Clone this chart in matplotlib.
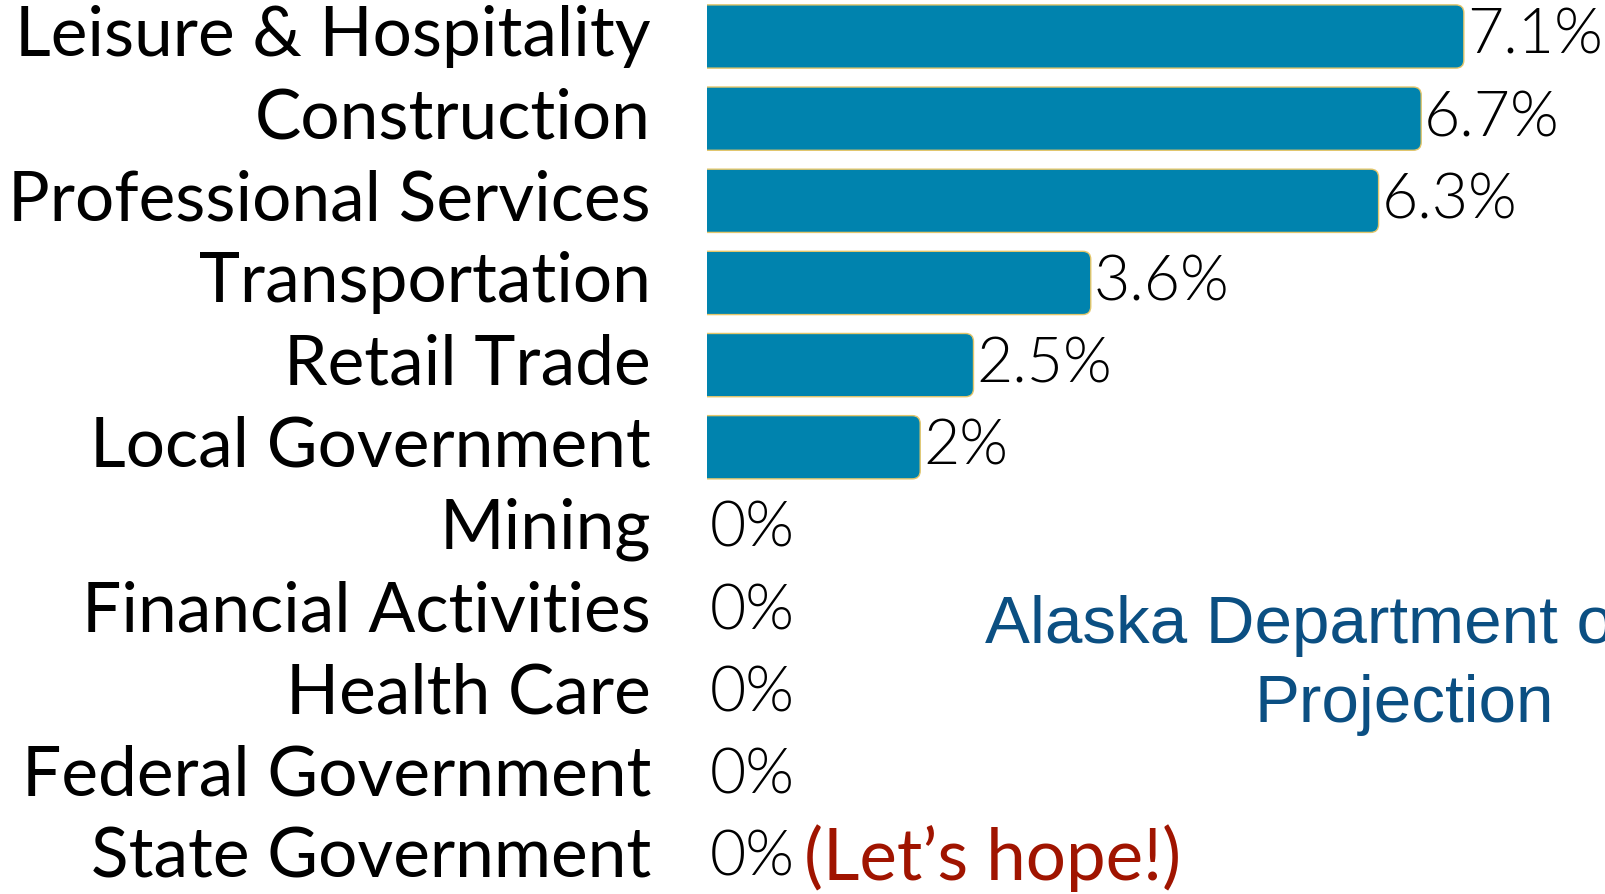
import matplotlib
matplotlib.use("Agg")
import matplotlib.pyplot as plt
from matplotlib.patches import FancyBboxPatch
from matplotlib import transforms

categories = ["Leisure & Hospitality", "Construction", "Professional Services",
              "Transportation", "Retail Trade", "Local Government", "Mining",
              "Financial Activities", "Health Care", "Federal Government",
              "State Government"]
values = [7.1, 6.7, 6.3, 3.6, 2.5, 2.0, 0, 0, 0, 0, 0]
value_labels = ["7.1%", "6.7%", "6.3%", "3.6%", "2.5%", "2%", "0%", "0%", "0%", "0%", "0%"]

W, H, DPI = 1605, 894, 100
fig = plt.figure(figsize=(W / DPI, H / DPI), dpi=DPI)
fig.patch.set_facecolor("white")

ax_left = 707
ax = fig.add_axes([ax_left / W, 0, 1 - ax_left / W, 1])
px_per_x = 106.6
px_per_row = 82.15
first_row_px = 36.5
ax.set_xlim(0, (W - ax_left) / px_per_x)
ax.set_ylim((H - first_row_px) / px_per_row, -first_row_px / px_per_row)
ax.axis("off")

bar_color = "#0083AE"
edge_color = "#E3C66B"
bh = 0.77
rx = 8 / px_per_x
ry = 8 / px_per_row
ypos = list(range(len(categories)))
bars = ax.barh(ypos, values, height=bh, color=bar_color)
for b in bars:
    x0, y0, w, h = b.get_x(), b.get_y(), b.get_width(), b.get_height()
    b.set_visible(False)
    if w <= 0:
        continue
    p = FancyBboxPatch((x0 - 0.3, y0), w + 0.3, h,
                       boxstyle=f"round,pad=0,rounding_size={rx}",
                       mutation_aspect=ry / rx,
                       facecolor=bar_color, edgecolor=edge_color, linewidth=1.0,
                       clip_on=True)
    ax.add_patch(p)

label_font = "Lato"
for y, v, lab in zip(ypos, values, value_labels):
    ax.annotate(lab, (v, y), xytext=(2, 0), textcoords="offset points",
                ha="left", va="center", fontsize=45, family=label_font,
                fontweight=300, color="black", annotation_clip=False)

# category labels
trans = transforms.blended_transform_factory(fig.transFigure, ax.transData)
for y, c in zip(ypos, categories):
    fig.text(651 / W, y, c, transform=trans, ha="right", va="center",
             fontsize=50, family=label_font, color="black")

# red note
ax.annotate("(Let\u2019s hope!)", (0, ypos[-1]), xytext=(70, 0),
            textcoords="offset points", ha="left", va="center",
            fontsize=51, family=label_font, color="#A01400",
            annotation_clip=False)

# source overlay text (partly running off the right edge, as in the original)
src_fam = "Liberation Sans"
fig.text(985 / W, 1 - 643 / H, "Alaska Department of Labor",
         ha="left", va="baseline", fontsize=48.5, family=src_fam, color="#0B4F82")
fig.text(1404 / W, 1 - 722 / H, "Projection",
         ha="center", va="baseline", fontsize=48.5, family=src_fam, color="#0B4F82")

fig.savefig("out.png", dpi=DPI)
